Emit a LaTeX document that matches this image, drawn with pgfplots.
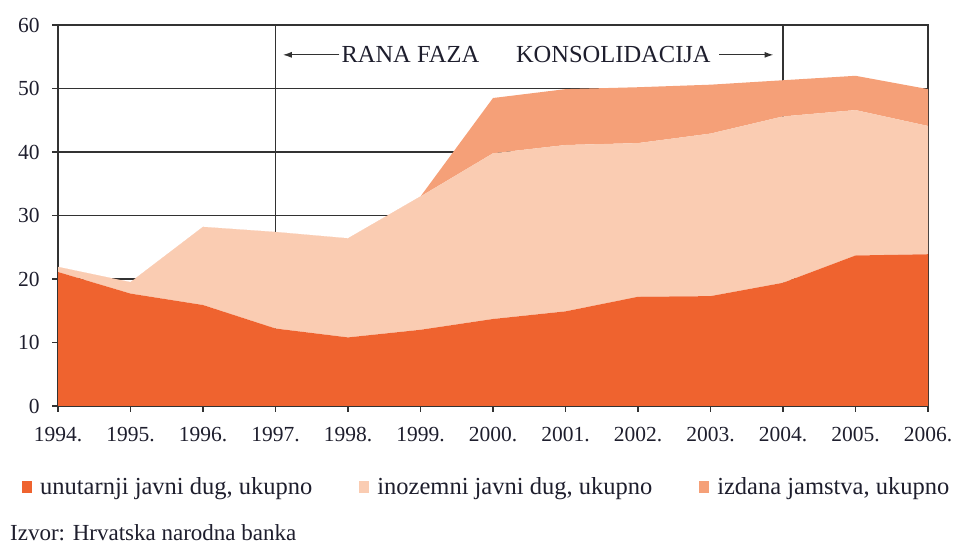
\documentclass[border=0pt]{standalone}
\usepackage{fontspec}
\setmainfont{Liberation Serif}
\usepackage{pgfplots}
\pgfplotsset{compat=1.18}
\usetikzlibrary{arrows.meta}
\definecolor{domc}{RGB}{239,99,47}
\definecolor{forc}{RGB}{250,204,178}
\definecolor{guac}{RGB}{245,160,120}
\definecolor{txt}{RGB}{30,30,45}
\definecolor{axc}{RGB}{50,50,50}
\begin{document}
\begin{tikzpicture}[x=1pt,y=1pt]
\useasboundingbox (0,0) rectangle (958,545);
\begin{axis}[
  at={(58pt,139pt)}, anchor=south west, scale only axis,
  width=870pt, height=381pt,
  xmin=1994, xmax=2006, ymin=0, ymax=60,
  xtick={1994,1995,...,2006},
  xticklabels={1994.,1995.,1996.,1997.,1998.,1999.,2000.,2001.,2002.,2003.,2004.,2005.,2006.},
  ytick={0,10,...,60},
  /pgf/number format/assume math mode=true,
  ymajorgrids, grid style={axc, line width=1.7pt},
  axis line style={axc, line width=1.7pt},
  tick style={axc, line width=1.3pt},
  tick align=outside, major tick length=6pt,
  xtick pos=bottom, ytick pos=left,
  ticklabel style={font=\fontsize{21.5}{24}\selectfont, text=txt},
  xticklabel style={yshift=-12pt},
  yticklabel style={xshift=-9pt},
  stack plots=y,
  legend columns=3,
  legend style={at={(-0.0414,-0.2126)}, anchor=west, draw=none, fill=none,
    font=\fontsize{24.5}{27}\selectfont, text=txt, inner sep=0pt,
    /tikz/every odd column/.append style={column sep=6pt},
    /tikz/every even column/.append style={column sep=45pt}},
  legend image code/.code={\fill[#1] (0pt,-6pt) rectangle (10pt,6pt);},
]
\addplot[fill=domc, draw=none] coordinates {
(1994,21.1) (1995,17.7) (1996,15.9) (1997,12.2) (1998,10.8) (1999,12.0) (2000,13.7)
(2001,14.9) (2002,17.2) (2003,17.3) (2004,19.4) (2005,23.7) (2006,23.9)} \closedcycle;
\addlegendentry{unutarnji javni dug, ukupno}
\addplot[fill=forc, draw=none] coordinates {
(1994,0.8) (1995,1.8) (1996,12.3) (1997,15.2) (1998,15.6) (1999,21.0) (2000,26.1)
(2001,26.2) (2002,24.2) (2003,25.6) (2004,26.2) (2005,22.9) (2006,20.2)} \closedcycle;
\addlegendentry{inozemni javni dug, ukupno}
\addplot[fill=guac, draw=none] coordinates {
(1994,0) (1995,0) (1996,0) (1997,0) (1998,0) (1999,0) (2000,8.7)
(2001,8.8) (2002,8.8) (2003,7.7) (2004,5.7) (2005,5.4) (2006,5.8)} \closedcycle;
\addlegendentry{izdana jamstva, ukupno}
\draw[axc, line width=1.7pt] (axis cs:1997,0) -- (axis cs:1997,60);
\draw[axc, line width=1.7pt] (axis cs:2004,0) -- (axis cs:2004,60);
\draw[axc, line width=1.7pt] (axis cs:2006,0) -- (axis cs:2006,60);
\draw[axc, line width=1.3pt, -{Latex[length=9pt,width=6pt]}] (axis cs:1997.88,55.3) -- (axis cs:1997.1,55.3);
\draw[axc, line width=1.3pt, -{Latex[length=9pt,width=6pt]}] (axis cs:2003.12,55.3) -- (axis cs:2003.87,55.3);
\node[text=txt, font=\fontsize{24.5}{27}\selectfont] at (axis cs:1998.86,55.3) {RANA FAZA};
\node[text=txt, font=\fontsize{24.5}{27}\selectfont] at (axis cs:2001.66,55.3) {KONSOLIDACIJA};
\node[text=txt, font=\fontsize{24.5}{27}\selectfont] at (axis cs:2000.59,26.5) {ZRELA FAZA};
\end{axis}
\node[anchor=west, text=txt, font=\fontsize{23}{26}\selectfont, inner sep=0pt] at (10,12) {Izvor: Hrvatska narodna banka};
\end{tikzpicture}
\end{document}
